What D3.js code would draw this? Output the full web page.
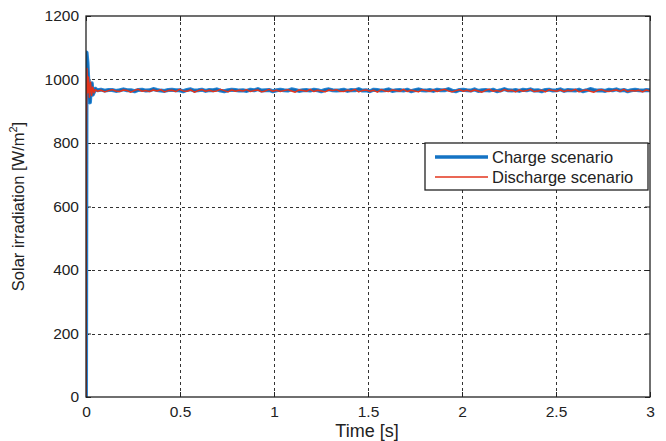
<!DOCTYPE html>
<html>
<head>
<meta charset="utf-8">
<script src="https://cdn.jsdelivr.net/npm/d3@7/dist/d3.min.js"></script>
<style>
  html, body { margin: 0; padding: 0; background: #fff; }
  svg { display: block; font-family: "Liberation Sans", Arial, sans-serif; }
</style>
</head>
<body>
<svg id="chart" width="666" height="441"></svg>
<script>
// ---- Data ---------------------------------------------------------------
const xTicks = [0, 0.5, 1, 1.5, 2, 2.5, 3];
const xTickLabels = ["0", "0.5", "1", "1.5", "2", "2.5", "3"];
const yTicks = [0, 200, 400, 600, 800, 1000, 1200];
const yTickLabels = ["0", "200", "400", "600", "800", "1000", "1200"];
const seriesNames = ["Charge scenario", "Discharge scenario"];

// start-up transient [time s, irradiation W/m2]
const chargeTransient = [
  [0, 0], [0.003, 1085], [0.008, 1052], [0.012, 1000], [0.016, 945],
  [0.021, 928], [0.026, 972], [0.031, 988], [0.036, 952], [0.042, 960],
  [0.05, 971]
];
const dischargeTransient = [
  [0, 0], [0.002, 870], [0.005, 1035], [0.009, 958], [0.013, 1008],
  [0.018, 944], [0.024, 992], [0.03, 950], [0.036, 976], [0.043, 958],
  [0.05, 968]
];

// steady-state samples from 0.06 s to 3 s
const steadyStart = 0.06, steadyEnd = 3;
const chargeSteady = [
  966,968,965,967,967,964,966,969,966,966,963,967,968,965,966,970,967,965,964,967,
  968,966,966,963,967,969,965,966,968,964,967,966,969,965,963,966,968,967,965,966,
  964,968,966,970,965,966,967,963,966,968,966,965,969,967,964,966,967,965,968,966,
  963,967,969,966,965,966,968,964,967,966,970,965,966,963,968,967,965,966,969,964,
  966,967,965,968,963,966,969,966,965,967,964,968,966,966,970,965,963,967,968,966,
  965,969,964,966,967,965,968,963,966,970,966,965,967,964,968,966,969,965,966,963,
  967,968,965,966,969,964,967,966,965,968,963,966,970,967,965,966,964,968,966,969,
  965,967,963,966,968,966,965,967,966
];
const dischargeSteady = [
  963,966,961,965,968,964,962,967,965,960,966,969,963,965,962,967,964,968,961,965,
  966,962,969,964,963,967,960,965,968,963,966,962,964,969,965,961,967,963,966,964,
  968,962,965,967,961,964,969,963,966,962,965,968,964,960,967,965,963,969,962,966,
  964,961,967,965,968,963,962,966,964,969,961,965,967,963,966,960,968,964,962,967,
  965,963,969,962,966,964,961,968,965,963,967,962,966,969,964,961,965,968,963,966,
  962,967,964,960,966,969,963,965,962,968,964,966,961,967,963,965,969,962,964,966,
  961,968,965,963,967,962,966,964,969,961,965,967,963,960,966,968,964,962,965,967,
  963,969,962,965,964,966,961,967,964
];

// ---- Layout -------------------------------------------------------------
const svg = d3.select("#chart");
const margin = { left: 86, right: 16, top: 16, bottom: 44 };
const W = 666, H = 441;
const pw = W - margin.left - margin.right;
const ph = H - margin.top - margin.bottom;

const x = d3.scaleLinear().domain([0, 3]).range([0, pw]);
const y = d3.scaleLinear().domain([0, 1200]).range([ph, 0]);

const g = svg.append("g").attr("transform", `translate(${margin.left},${margin.top})`);

function buildSeries(transient, steady) {
  const dt = (steadyEnd - steadyStart) / (steady.length - 1);
  return transient.concat(steady.map((v, i) => [steadyStart + i * dt, v]));
}
const chargeData = buildSeries(chargeTransient, chargeSteady);
const dischargeData = buildSeries(dischargeTransient, dischargeSteady);

// ---- Grid ---------------------------------------------------------------
const gridColor = "#333";
g.append("g").selectAll("line").data(xTicks.slice(1, -1)).join("line")
  .attr("x1", d => Math.round(x(d)) + 0.5).attr("x2", d => Math.round(x(d)) + 0.5)
  .attr("y1", 0).attr("y2", ph)
  .attr("stroke", gridColor).attr("stroke-width", 1)
  .attr("stroke-dasharray", "3,3");
g.append("g").selectAll("line").data(yTicks.slice(1, -1)).join("line")
  .attr("x1", 0).attr("x2", pw)
  .attr("y1", d => Math.round(y(d)) + 0.5).attr("y2", d => Math.round(y(d)) + 0.5)
  .attr("stroke", gridColor).attr("stroke-width", 1)
  .attr("stroke-dasharray", "3,3");

// ---- Axes (inward ticks, boxed) -----------------------------------------
const tickFont = "15.5px";
const xAxis = d3.axisBottom(x).tickValues(xTicks).tickSizeInner(-5).tickSizeOuter(0)
  .tickPadding(9).tickFormat((d, i) => xTickLabels[i]);
const yAxis = d3.axisLeft(y).tickValues(yTicks).tickSizeInner(-5).tickSizeOuter(0)
  .tickPadding(7).tickFormat((d, i) => yTickLabels[i]);

const gx = g.append("g").attr("transform", `translate(0,${ph})`).call(xAxis);
const gy = g.append("g").call(yAxis);
[gx, gy].forEach(a => {
  a.select(".domain").remove();
  a.selectAll("line").attr("stroke", "#222");
  a.selectAll("text").attr("font-size", tickFont).attr("fill", "#222")
    .attr("font-family", "'Liberation Sans', Arial, sans-serif");
});
// ticks on top and right edges
g.append("g").call(d3.axisTop(x).tickValues(xTicks).tickSizeInner(-5).tickSizeOuter(0).tickFormat(""))
  .call(a => { a.select(".domain").remove(); a.selectAll("line").attr("stroke", "#222"); });
g.append("g").attr("transform", `translate(${pw},0)`)
  .call(d3.axisRight(y).tickValues(yTicks).tickSizeInner(-5).tickSizeOuter(0).tickFormat(""))
  .call(a => { a.select(".domain").remove(); a.selectAll("line").attr("stroke", "#222"); });

// ---- Series -------------------------------------------------------------
g.append("clipPath").attr("id", "plotClip")
  .append("rect").attr("x", 0).attr("y", 0).attr("width", pw).attr("height", ph);

const line = d3.line().x(d => x(d[0])).y(d => y(d[1]));
const plot = g.append("g").attr("clip-path", "url(#plotClip)");
plot.append("path").datum(chargeData).attr("d", line)
  .attr("fill", "none").attr("stroke", "#2a86d4").attr("stroke-width", 4)
  .attr("stroke-linejoin", "round");
plot.append("path").datum(chargeData).attr("d", line)
  .attr("fill", "none").attr("stroke", "#0f6cb8").attr("stroke-width", 2)
  .attr("stroke-linejoin", "round");
plot.append("path").datum(dischargeData).attr("d", line)
  .attr("fill", "none").attr("stroke", "#e3341c").attr("stroke-width", 1.5)
  .attr("stroke-linejoin", "round");

// ---- Frame --------------------------------------------------------------
g.append("rect").attr("x", 0).attr("y", 0).attr("width", pw).attr("height", ph)
  .attr("fill", "none").attr("stroke", "#222").attr("stroke-width", 1.3);

// ---- Axis labels --------------------------------------------------------
svg.append("text").attr("x", margin.left + pw / 2 - 1).attr("y", 437)
  .attr("text-anchor", "middle").attr("font-size", "18px").attr("fill", "#222")
  .text("Time [s]");

const yl = svg.append("text")
  .attr("transform", `translate(24,${margin.top + ph / 2}) rotate(-90)`)
  .attr("text-anchor", "middle").attr("font-size", "16.5px").attr("fill", "#222");
yl.append("tspan").text("Solar irradiation [W/m");
yl.append("tspan").attr("dy", -7).attr("font-size", "11px").text("2");
yl.append("tspan").attr("dy", 7).text("]");

// ---- Legend -------------------------------------------------------------
const lg = svg.append("g").attr("transform", "translate(425,143)");
lg.append("rect").attr("x", 0).attr("y", 0).attr("width", 223).attr("height", 47)
  .attr("fill", "#fff").attr("stroke", "#222").attr("stroke-width", 1.3);
const legendStyles = [
  { color: "#1473c4", width: 3.5 },
  { color: "#e3341c", width: 1.5 }
];
seriesNames.forEach((name, i) => {
  const yy = 14 + i * 20;
  lg.append("line").attr("x1", 10).attr("x2", 63).attr("y1", yy).attr("y2", yy)
    .attr("stroke", legendStyles[i].color).attr("stroke-width", legendStyles[i].width);
  lg.append("text").attr("x", 67).attr("y", yy + 5.5).attr("font-size", "16.5px")
    .attr("fill", "#222").text(name);
});
</script>
</body>
</html>
